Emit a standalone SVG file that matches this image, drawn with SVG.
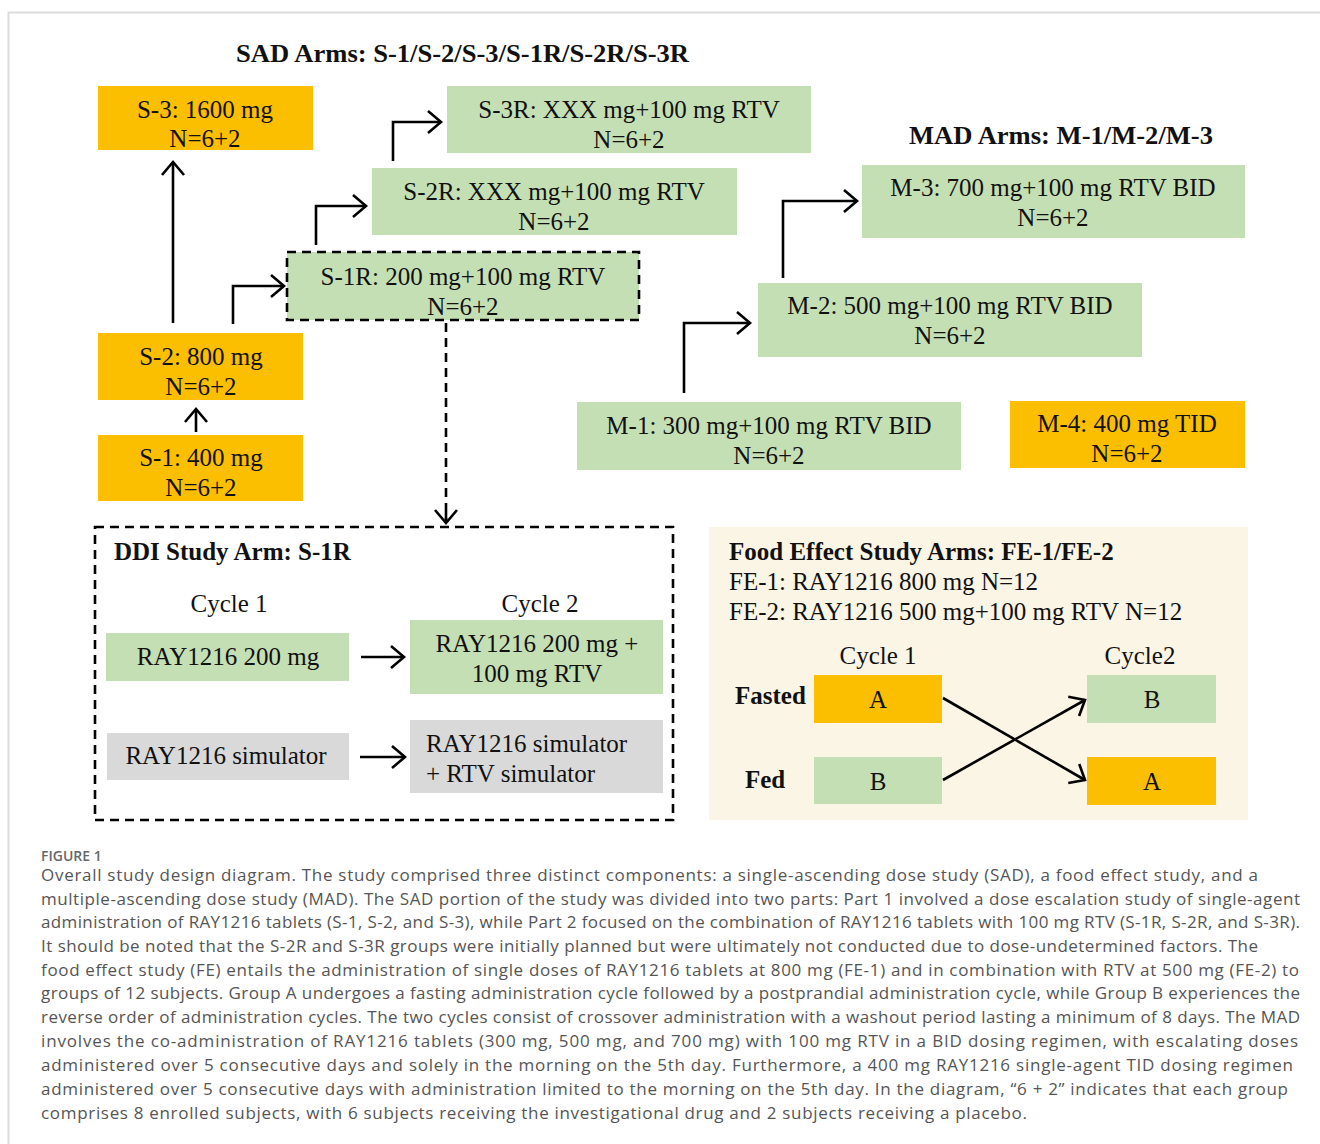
<svg xmlns="http://www.w3.org/2000/svg" width="1320" height="1144" viewBox="0 0 1320 1144">
<defs>
<marker id="ah" markerUnits="userSpaceOnUse" markerWidth="26" markerHeight="26" viewBox="0 0 26 26" refX="23" refY="13" orient="auto"><path d="M10,2 L23,13 L10,24" fill="none" stroke="#000" stroke-width="2.6"/></marker>
</defs>
<style>
.t{font-family:"Liberation Serif","Times New Roman",serif;font-size:25px;fill:#111}
.m{text-anchor:middle}
.b{font-weight:bold}
.or{fill:#FBBF00}
.gr{fill:#C5DFB4}
.gy{fill:#D9D9D9}
.c{stroke:#000;stroke-width:2.6;fill:none}
.d{stroke-dasharray:9 6}
.cap{font-family:"Open Sans","Lato",sans-serif;font-size:17px;fill:#555}
</style>
<rect width="1320" height="1144" fill="#fff"/>
<path d="M8.5,1144 V12.5 H1320" fill="none" stroke="#dcdcdc" stroke-width="2"/>

<g id="titles">
<text class="t b" x="236" y="62" font-size="26" textLength="453" lengthAdjust="spacingAndGlyphs">SAD Arms: S-1/S-2/S-3/S-1R/S-2R/S-3R</text>
<text class="t b" x="909" y="144" font-size="26" textLength="304" lengthAdjust="spacingAndGlyphs">MAD Arms: M-1/M-2/M-3</text>
</g>

<g id="S-3"><rect class="or" x="98" y="86" width="215" height="64"/><text class="t m" x="205" y="118">S-3: 1600 mg</text><text class="t m" x="205" y="147">N=6+2</text></g>
<g id="S-3R"><rect class="gr" x="447" y="86" width="364" height="67"/><text class="t m" x="629" y="118">S-3R: XXX mg+100 mg RTV</text><text class="t m" x="629" y="148">N=6+2</text></g>
<g id="S-2R"><rect class="gr" x="372" y="168" width="365" height="67"/><text class="t m" x="554" y="200">S-2R: XXX mg+100 mg RTV</text><text class="t m" x="554" y="230">N=6+2</text></g>
<g id="S-1R"><rect class="gr" x="287" y="252" width="352" height="68"/><rect class="c d" x="287" y="252" width="352" height="68"/><text class="t m" x="463" y="285">S-1R: 200 mg+100 mg RTV</text><text class="t m" x="463" y="315">N=6+2</text></g>
<g id="S-2"><rect class="or" x="98" y="333" width="205" height="67"/><text class="t m" x="201" y="365">S-2: 800 mg</text><text class="t m" x="201" y="395">N=6+2</text></g>
<g id="S-1"><rect class="or" x="98" y="435" width="205" height="66"/><text class="t m" x="201" y="466">S-1: 400 mg</text><text class="t m" x="201" y="496">N=6+2</text></g>

<g id="M-3"><rect class="gr" x="862" y="165" width="383" height="73"/><text class="t m" x="1053" y="196">M-3: 700 mg+100 mg RTV BID</text><text class="t m" x="1053" y="226">N=6+2</text></g>
<g id="M-2"><rect class="gr" x="758" y="283" width="384" height="74"/><text class="t m" x="950" y="314">M-2: 500 mg+100 mg RTV BID</text><text class="t m" x="950" y="344">N=6+2</text></g>
<g id="M-1"><rect class="gr" x="577" y="402" width="384" height="68"/><text class="t m" x="769" y="434">M-1: 300 mg+100 mg RTV BID</text><text class="t m" x="769" y="464">N=6+2</text></g>
<g id="M-4"><rect class="or" x="1010" y="401" width="235" height="67"/><text class="t m" x="1127" y="432">M-4: 400 mg TID</text><text class="t m" x="1127" y="462">N=6+2</text></g>

<g id="DDI">
<rect class="c d" x="95" y="527" width="578" height="293"/>
<text class="t b" x="114" y="560">DDI Study Arm: S-1R</text>
<text class="t m" x="229" y="612">Cycle 1</text>
<text class="t m" x="540" y="612">Cycle 2</text>
</g>
<g id="DDI-c1a"><rect class="gr" x="106" y="633" width="243" height="48"/><text class="t m" x="228" y="665">RAY1216 200 mg</text></g>
<g id="DDI-c2a"><rect class="gr" x="410" y="620" width="253" height="74"/><text class="t m" x="537" y="652">RAY1216 200 mg +</text><text class="t m" x="537" y="682">100 mg RTV</text></g>
<g id="DDI-c1b"><rect class="gy" x="107" y="733" width="242" height="47"/><text class="t m" x="226" y="764">RAY1216 simulator</text></g>
<g id="DDI-c2b"><rect class="gy" x="410" y="720" width="253" height="73"/><text class="t" x="426" y="752">RAY1216 simulator</text><text class="t" x="426" y="782">+ RTV simulator</text></g>

<g id="FE">
<rect fill="#FBF5E5" x="709" y="527" width="539" height="293"/>
<text class="t b" x="729" y="560">Food Effect Study Arms: FE-1/FE-2</text>
<text class="t" x="729" y="590">FE-1: RAY1216 800 mg N=12</text>
<text class="t" x="729" y="620">FE-2: RAY1216 500 mg+100 mg RTV N=12</text>
<text class="t m" x="878" y="664">Cycle 1</text>
<text class="t m" x="1140" y="664">Cycle2</text>
<text class="t b" x="735" y="704" font-size="24">Fasted</text>
<text class="t b" x="745" y="788" font-size="24">Fed</text>
</g>
<g id="FE-c1A"><rect class="or" x="814" y="675" width="128" height="48"/><text class="t m" x="878" y="708">A</text></g>
<g id="FE-c1B"><rect class="gr" x="814" y="757" width="128" height="47"/><text class="t m" x="878" y="790">B</text></g>
<g id="FE-c2B"><rect class="gr" x="1087" y="675" width="129" height="48"/><text class="t m" x="1152" y="708">B</text></g>
<g id="FE-c2A"><rect class="or" x="1087" y="757" width="129" height="48"/><text class="t m" x="1152" y="790">A</text></g>

<g id="connectors">
<path class="c" d="M196,432 V409" marker-end="url(#ah)"/>
<path class="c" d="M173,323 V162" marker-end="url(#ah)"/>
<path class="c" d="M233,324 V286 H284" marker-end="url(#ah)"/>
<path class="c" d="M316,245 V206 H366" marker-end="url(#ah)"/>
<path class="c" d="M393,161 V122 H441" marker-end="url(#ah)"/>
<path class="c d" d="M446,323 V522"/>
<path class="c" d="M446,512 V523" marker-end="url(#ah)"/>
<path class="c" d="M684,393 V323 H750" marker-end="url(#ah)"/>
<path class="c" d="M783,278 V201 H857" marker-end="url(#ah)"/>
<path class="c" d="M361,657 H404" marker-end="url(#ah)"/>
<path class="c" d="M360,757 H405" marker-end="url(#ah)"/>
<path class="c" d="M943,698 L1085,780" marker-end="url(#ah)"/>
<path class="c" d="M943,780 L1085,700" marker-end="url(#ah)"/>
</g>

<g id="caption">
<text x="41" y="861" font-family="'Open Sans','Lato',sans-serif" font-size="14" font-weight="600" fill="#666">FIGURE 1</text>
<text class="cap" x="41" y="881" textLength="1217" lengthAdjust="spacing">Overall study design diagram. The study comprised three distinct components: a single-ascending dose study (SAD), a food effect study, and a</text>
<text class="cap" x="41" y="905" textLength="1259" lengthAdjust="spacing">multiple-ascending dose study (MAD). The SAD portion of the study was divided into two parts: Part 1 involved a dose escalation study of single-agent</text>
<text class="cap" x="41" y="928" textLength="1259" lengthAdjust="spacing">administration of RAY1216 tablets (S-1, S-2, and S-3), while Part 2 focused on the combination of RAY1216 tablets with 100 mg RTV (S-1R, S-2R, and S-3R).</text>
<text class="cap" x="41" y="952" textLength="1217" lengthAdjust="spacing">It should be noted that the S-2R and S-3R groups were initially planned but were ultimately not conducted due to dose-undetermined factors. The</text>
<text class="cap" x="41" y="976" textLength="1258" lengthAdjust="spacing">food effect study (FE) entails the administration of single doses of RAY1216 tablets at 800 mg (FE-1) and in combination with RTV at 500 mg (FE-2) to</text>
<text class="cap" x="41" y="999" textLength="1259" lengthAdjust="spacing">groups of 12 subjects. Group A undergoes a fasting administration cycle followed by a postprandial administration cycle, while Group B experiences the</text>
<text class="cap" x="41" y="1023" textLength="1259" lengthAdjust="spacing">reverse order of administration cycles. The two cycles consist of crossover administration with a washout period lasting a minimum of 8 days. The MAD</text>
<text class="cap" x="41" y="1047" textLength="1257" lengthAdjust="spacing">involves the co-administration of RAY1216 tablets (300 mg, 500 mg, and 700 mg) with 100 mg RTV in a BID dosing regimen, with escalating doses</text>
<text class="cap" x="41" y="1071" textLength="1252" lengthAdjust="spacing">administered over 5 consecutive days and solely in the morning on the 5th day. Furthermore, a 400 mg RAY1216 single-agent TID dosing regimen</text>
<text class="cap" x="41" y="1095" textLength="1247" lengthAdjust="spacing">administered over 5 consecutive days with administration limited to the morning on the 5th day. In the diagram, “6 + 2” indicates that each group</text>
<text class="cap" x="41" y="1119" textLength="986" lengthAdjust="spacing">comprises 8 enrolled subjects, with 6 subjects receiving the investigational drug and 2 subjects receiving a placebo.</text>
</g>
</svg>
